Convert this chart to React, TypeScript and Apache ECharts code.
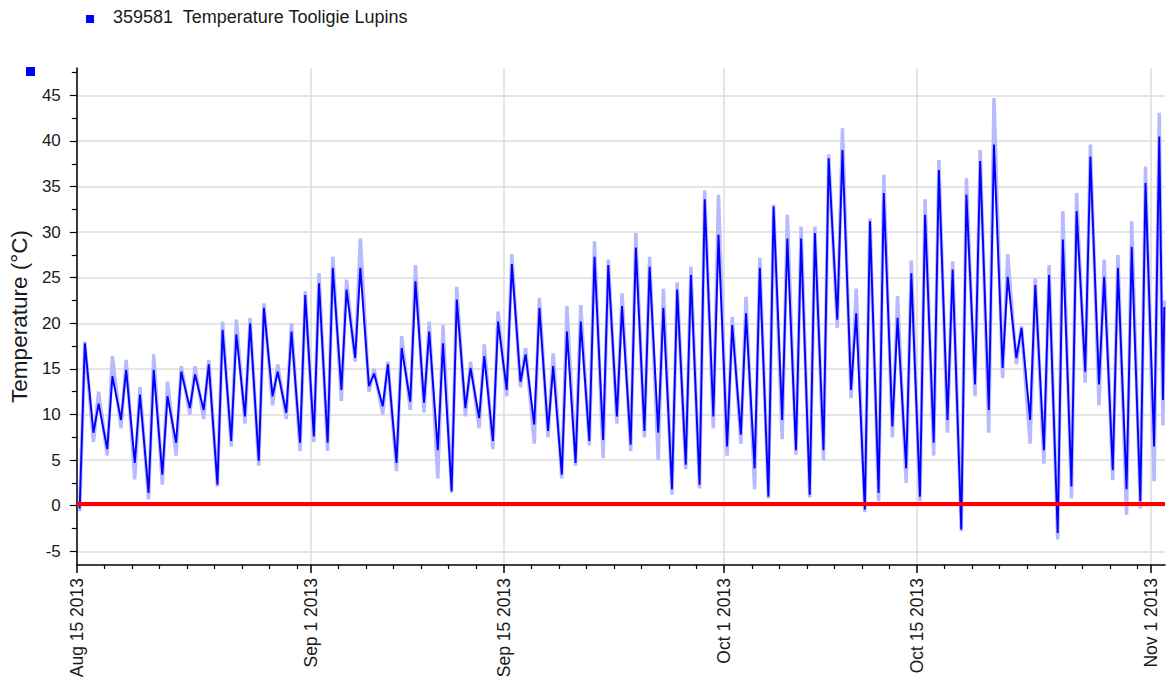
import React, { useEffect, useRef } from "react";
import * as echarts from "echarts";

// ---- data (days counted from Aug 15 2013 00:00) ----
const tickDays = [0, 17, 31, 47, 61, 78];
const tickLabels = ["Aug 15 2013", "Sep 1 2013", "Sep 15 2013", "Oct 1 2013", "Oct 15 2013", "Nov 1 2013"];
const minorTickDays = [2, 4, 6, 8, 10, 12, 14, 16, 19, 21, 23, 25, 27, 29, 33, 35, 37, 39, 41, 43, 45, 49, 51, 53, 55, 57, 59, 63, 65, 67, 69, 71, 73, 75, 77];
const yTicks = [-5, 0, 5, 10, 15, 20, 25, 30, 35, 40, 45];

const seriesName = "359581  Temperature Tooligie Lupins";
const MIN_HOUR = 5;
const MAX_HOUR = 14;

const dailyMin = [
  -0.3, 8.0, 6.2, 9.4, 4.7, 1.4, 3.4, 6.9, 10.7, 10.5, 2.3, 7.1, 9.8, 4.9, 12.0, 10.2,
  6.9, 7.6, 6.9, 12.7, 16.2, 13.1, 10.9, 4.7, 11.4, 11.3, 6.1, 1.6, 10.7, 9.6, 7.1, 12.7,
  13.6, 8.9, 8.2, 3.4, 4.7, 7.1, 7.2, 9.8, 6.7, 8.2, 8.0, 1.8, 4.5, 2.3, 9.8,
  6.5, 7.8, 4.1, 1.0, 9.4, 6.1, 1.2, 6.1, 20.4, 12.7, -0.4, 1.4, 8.7, 4.1, 1.0, 6.9,
  9.4, -2.6, 13.3, 10.5, 15.1, 16.2, 9.4, 6.1, -3.0, 2.1, 14.7, 13.3, 3.9, 1.8, 0.5, 6.5,
];
const dailyMax = [
  17.8, 11.2, 14.2, 14.9, 12.2, 14.9, 12.0, 14.7, 14.4, 15.5, 19.3, 18.8, 20.0, 21.7, 14.7, 19.1,
  23.1, 24.4, 26.1, 23.7, 26.1, 14.5, 15.5, 17.3, 24.6, 19.1, 17.8, 22.6, 15.1, 16.4, 20.2, 26.5,
  16.6, 21.7, 15.3, 19.1, 20.2, 27.3, 26.4, 21.9, 28.3, 26.2, 21.7, 23.7, 25.3, 33.6, 29.7,
  19.8, 21.1, 26.1, 32.8, 29.3, 29.3, 29.9, 38.1, 39.0, 21.1, 31.2, 34.3, 20.6, 25.5, 31.9, 36.8,
  25.9, 34.1, 37.8, 39.6, 25.1, 19.5, 24.2, 25.3, 29.2, 32.3, 38.3, 25.1, 26.1, 28.4, 35.4, 40.5,
];
const haloMin = [
  -0.6, 7.0, 5.5, 8.5, 2.9, 0.7, 2.3, 5.5, 10.0, 9.5, 2.1, 6.5, 9.0, 4.4, 11.0, 9.5,
  6.0, 7.0, 6.0, 11.5, 15.8, 12.5, 10.0, 3.8, 10.5, 10.2, 3.0, 1.4, 9.8, 8.5, 6.2, 12.0,
  13.0, 6.8, 7.5, 3.0, 4.4, 6.6, 5.2, 9.0, 6.0, 7.5, 5.0, 1.2, 4.0, 1.9, 8.5,
  5.5, 6.8, 1.8, 0.8, 7.3, 5.6, 0.9, 5.0, 19.5, 11.8, -0.7, 0.5, 7.5, 2.5, 0.5, 5.5,
  8.0, -2.8, 12.0, 8.0, 14.0, 15.5, 6.8, 4.6, -3.7, 0.8, 13.5, 11.0, 2.8, -1.0, -0.3, 2.7,
];
const haloMax = [
  18.0, 12.5, 16.4, 16.0, 13.0, 16.6, 13.6, 15.3, 15.3, 16.0, 20.2, 20.4, 20.6, 22.2, 15.5, 20.0,
  23.5, 25.5, 27.3, 24.8, 29.3, 15.0, 15.8, 18.6, 26.4, 20.2, 19.8, 24.0, 15.8, 17.7, 21.3, 27.6,
  17.3, 22.8, 16.7, 21.9, 22.0, 29.0, 27.0, 23.3, 29.9, 27.3, 23.8, 24.5, 26.2, 34.6, 34.1,
  20.7, 22.9, 27.2, 33.0, 31.9, 30.6, 30.6, 38.5, 41.4, 23.8, 31.5, 36.3, 23.0, 26.9, 33.6, 37.9,
  26.8, 35.9, 39.0, 44.7, 27.6, 19.7, 24.9, 26.4, 32.3, 34.3, 39.6, 27.0, 27.5, 31.2, 37.2, 43.1,
];
const tailDays = [78.85, 78.95];
const tailValues = [11.6, 21.8];
const tailHalo = [8.8, 22.5];

const FONT = "'Liberation Sans', Arial, sans-serif";

function buildPoints(mins: number[], maxs: number[], tail: number[]) {
  const pts: number[][] = [];
  for (let d = 0; d < mins.length; d++) {
    pts.push([d + MIN_HOUR / 24, mins[d]]);
    pts.push([d + MAX_HOUR / 24, maxs[d]]);
  }
  tailDays.forEach((t, i) => pts.push([t, tail[i]]));
  return pts;
}

export default function App() {
  const ref = useRef<HTMLDivElement>(null);
  useEffect(() => {
    if (!ref.current) return;
    const chart = echarts.init(ref.current, null, { renderer: "svg" });
    const darkPts = buildPoints(dailyMin, dailyMax, tailValues);
    const haloPts = buildPoints(haloMin, haloMax, tailHalo);
    const labelFor = (v: number) => {
      const i = tickDays.findIndex((t) => Math.abs(t - v) < 1e-6);
      return i >= 0 ? tickLabels[i] : "";
    };
    chart.setOption({
      animation: false,
      backgroundColor: "#ffffff",
      textStyle: { fontFamily: FONT },
      grid: { left: 73, right: 10, top: 68, bottom: 122, containLabel: false },
      xAxis: [
        {
          type: "value",
          min: 0,
          max: 79,
          position: "bottom",
          axisLine: { show: true, onZero: false, lineStyle: { color: "#000", width: 1.5 } },
          axisTick: { show: true, customValues: tickDays, length: 8, lineStyle: { color: "#000", width: 1.5 } },
          axisLabel: {
            customValues: tickDays,
            rotate: 90,
            margin: 13,
            fontSize: 17.5,
            color: "#1a1a1a",
            fontFamily: FONT,
            showMinLabel: true,
            showMaxLabel: true,
            formatter: (v: number) => labelFor(v),
          },
          splitLine: { show: true, lineStyle: { color: "#dcdcdc", width: 1.5 } },
        },
        {
          type: "value",
          min: 0,
          max: 79,
          position: "bottom",
          axisLine: { show: false, onZero: false },
          axisTick: { show: true, customValues: minorTickDays, length: 4, lineStyle: { color: "#000", width: 1.2 } },
          axisLabel: { show: false },
          splitLine: { show: false },
        },
      ],
      yAxis: {
        type: "value",
        min: -6.5,
        max: 48,
        minInterval: 5,
        maxInterval: 5,
        name: "Temperature (°C)",
        nameLocation: "middle",
        nameRotate: 90,
        nameGap: 44,
        nameTextStyle: { fontSize: 22.5, color: "#1a1a1a", fontFamily: FONT },
        axisLine: { show: true, onZero: false, lineStyle: { color: "#000", width: 1.5 } },
        axisTick: { show: true, customValues: yTicks, length: 7, lineStyle: { color: "#000", width: 1.2 } },
        minorTick: { show: true, splitNumber: 2, length: 5, lineStyle: { color: "#000", width: 1.2 } },
        axisLabel: { customValues: yTicks, margin: 16, fontSize: 17, color: "#1a1a1a", fontFamily: FONT },
        splitLine: { show: true, lineStyle: { color: "#dcdcdc", width: 1.5 } },
        minorSplitLine: { show: false },
      },
      graphic: [
        { type: "rect", left: 86, top: 15, shape: { width: 8, height: 8 }, style: { fill: "#0000ff" } },
        {
          type: "text",
          left: 113,
          top: 8,
          style: { text: seriesName, fontSize: 18, fontFamily: FONT, fill: "#1a1a1a" },
        },
        { type: "rect", left: 26, top: 67, shape: { width: 9, height: 9 }, style: { fill: "#0000ff" } },
      ],
      series: [
        {
          name: seriesName + " range",
          type: "line",
          xAxisIndex: 0,
          data: haloPts,
          showSymbol: false,
          symbol: "none",
          lineStyle: { color: "#b9b9ff", width: 3.5 },
          z: 2,
          silent: true,
        },
        {
          name: seriesName,
          type: "line",
          xAxisIndex: 0,
          data: darkPts,
          showSymbol: false,
          symbol: "none",
          lineStyle: { color: "#0000ff", width: 1.9 },
          z: 3,
          silent: true,
          markLine: {
            silent: true,
            symbol: ["none", "none"],
            label: { show: false },
            lineStyle: { color: "#ff0000", width: 4, type: "solid" },
            emphasis: { disabled: true },
            data: [{ yAxis: 0.2 }],
          },
        },
      ],
    });
    return () => chart.dispose();
  }, []);
  return (
    <div
      ref={ref}
      style={{ position: "fixed", left: 0, top: 0, width: 1175, height: 687, background: "#fff" }}
    />
  );
}
